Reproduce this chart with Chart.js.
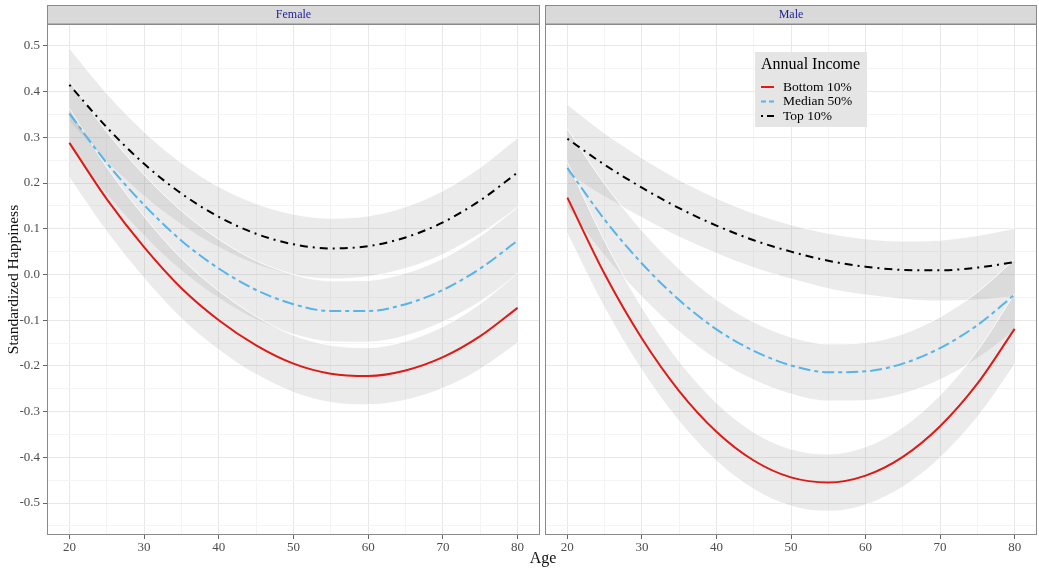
<!DOCTYPE html>
<html lang="en">
<head>
<meta charset="UTF-8">
<title>Standardized Happiness by Age and Annual Income</title>
<script src="https://cdn.jsdelivr.net/npm/chart.js"></script>
<style>
    * { margin: 0; padding: 0; box-sizing: border-box; }
    body { background: #fff; font-family: 'Liberation Serif', serif; }
    .wrap { position: relative; width: 1039px; height: 568px; overflow: hidden; }
    #femaleChart { position: absolute; left: 0; top: 0; }
    #maleChart { position: absolute; left: 543px; top: 0; }
    .x-title {
        position: absolute; left: 443px; width: 200px; top: 549px;
        text-align: center; font-size: 16px; line-height: 18px; color: #111;
    }
</style>
</head>
<body>
<div class="wrap">
    <canvas id="femaleChart" width="543" height="568"></canvas>
    <canvas id="maleChart" width="496" height="568"></canvas>
    <div class="x-title">Age</div>
</div>

<script>
// ages and axis ticks
const ages = [20, 25, 30, 35, 40, 45, 50, 55, 60, 65, 70, 75, 80];
const xTicks = [20, 25, 30, 35, 40, 45, 50, 55, 60, 65, 70, 75, 80];
const yTicks = [-0.55, -0.5, -0.45, -0.4, -0.35, -0.3, -0.25, -0.2, -0.15, -0.1, -0.05, 0,
                0.05, 0.1, 0.15, 0.2, 0.25, 0.3, 0.35, 0.4, 0.45, 0.5];
const seriesNames = ['Bottom 10%', 'Median 50%', 'Top 10%'];
const panelNames = ['Female', 'Male'];

// Female - fitted values and confidence bands
const femaleBottom   = [0.288, 0.165, 0.060, -0.030, -0.100, -0.155, -0.195, -0.217, -0.222, -0.210, -0.181, -0.135, -0.073];
const femaleBottomHi = [0.363, 0.235, 0.127, 0.035, -0.036, -0.092, -0.133, -0.155, -0.160, -0.146, -0.114, -0.064, 0.003];
const femaleBottomLo = [0.213, 0.095, -0.007, -0.095, -0.164, -0.218, -0.257, -0.279, -0.284, -0.274, -0.248, -0.206, -0.149];
const femaleMedian   = [0.352, 0.244, 0.152, 0.074, 0.013, -0.034, -0.065, -0.080, -0.080, -0.065, -0.034, 0.013, 0.074];
const femaleMedianHi = [0.424, 0.312, 0.218, 0.139, 0.077, 0.030, 0.000, -0.014, -0.013, 0.003, 0.035, 0.084, 0.147];
const femaleMedianLo = [0.280, 0.176, 0.086, 0.009, -0.051, -0.098, -0.130, -0.146, -0.147, -0.133, -0.103, -0.058, 0.001];
const femaleTop      = [0.415, 0.322, 0.242, 0.177, 0.126, 0.089, 0.066, 0.057, 0.062, 0.081, 0.114, 0.162, 0.223];
const femaleTopHi    = [0.495, 0.396, 0.312, 0.244, 0.192, 0.155, 0.132, 0.123, 0.128, 0.148, 0.183, 0.234, 0.299];
const femaleTopLo    = [0.335, 0.248, 0.172, 0.110, 0.060, 0.023, 0.000, -0.009, -0.004, 0.014, 0.045, 0.090, 0.147];

// Male - fitted values and confidence bands
const maleBottom   = [0.168, 0.001, -0.140, -0.255, -0.344, -0.407, -0.444, -0.455, -0.440, -0.399, -0.332, -0.239, -0.119];
const maleBottomHi = [0.245, 0.073, -0.072, -0.190, -0.281, -0.345, -0.382, -0.393, -0.377, -0.334, -0.264, -0.167, -0.042];
const maleBottomLo = [0.091, -0.071, -0.208, -0.320, -0.407, -0.469, -0.506, -0.517, -0.503, -0.464, -0.400, -0.311, -0.196];
const maleMedian   = [0.233, 0.120, 0.024, -0.056, -0.120, -0.167, -0.199, -0.214, -0.212, -0.195, -0.161, -0.111, -0.044];
const maleMedianHi = [0.318, 0.198, 0.096, 0.012, -0.055, -0.104, -0.137, -0.152, -0.149, -0.130, -0.093, -0.039, 0.033];
const maleMedianLo = [0.148, 0.042, -0.048, -0.124, -0.185, -0.230, -0.261, -0.276, -0.275, -0.260, -0.229, -0.183, -0.121];
const maleTop      = [0.297, 0.240, 0.190, 0.145, 0.107, 0.075, 0.050, 0.030, 0.017, 0.010, 0.009, 0.015, 0.027];
const maleTopHi    = [0.372, 0.309, 0.255, 0.207, 0.167, 0.134, 0.109, 0.090, 0.078, 0.073, 0.075, 0.085, 0.101];
const maleTopLo    = [0.222, 0.171, 0.125, 0.083, 0.047, 0.016, -0.009, -0.030, -0.044, -0.053, -0.057, -0.055, -0.047];

const lineColors = ['#dd1a16', '#56b4e9', '#000000'];
const lineDashes = [[], [12, 4, 4, 4], [2, 5, 8, 5]];
const bandFill = 'rgba(153, 153, 153, 0.2)';
const FONT = "'Liberation Serif', serif";

function pts(vals) {
    return ages.map((a, i) => ({ x: a, y: vals[i] }));
}

function buildDatasets(lines, his, los) {
    const ds = [];
    // bands first, drawn under the lines
    his.forEach((hi, i) => {
        ds.push({
            label: seriesNames[i] + ' upper', data: pts(hi), fill: '+1',
            backgroundColor: bandFill, borderColor: 'rgba(255,255,255,0.85)', borderWidth: 1,
            pointRadius: 0, cubicInterpolationMode: 'monotone', order: 1
        });
        ds.push({
            label: seriesNames[i] + ' lower', data: pts(los[i]), fill: false,
            borderColor: 'rgba(255,255,255,0.85)', borderWidth: 1,
            pointRadius: 0, cubicInterpolationMode: 'monotone', order: 1
        });
    });
    lines.forEach((vals, i) => {
        ds.push({
            label: seriesNames[i], data: pts(vals), fill: false,
            borderColor: lineColors[i], borderDash: lineDashes[i], borderWidth: 2,
            borderCapStyle: 'butt', pointRadius: 0, cubicInterpolationMode: 'monotone', order: 0
        });
    });
    return ds;
}

function isMajor(v, step) {
    return Math.abs(Math.round(v / step) * step - v) < 1e-6;
}

// strip header + panel border
const panelFrame = {
    id: 'panelFrame',
    afterDraw(chart, args, opts) {
        const { ctx, chartArea: a } = chart;
        const w = a.right - a.left;
        ctx.save();
        ctx.fillStyle = '#d9d9d9';
        ctx.fillRect(a.left, 5, w, a.top - 5);
        ctx.strokeStyle = '#8a8a8a';
        ctx.lineWidth = 1;
        ctx.strokeRect(a.left + 0.5, 5.5, w - 1, a.top - 5.5);
        ctx.strokeRect(a.left + 0.5, a.top + 0.5, w - 1, a.bottom - a.top - 1);
        ctx.fillStyle = '#1f1f96';
        ctx.font = '12px ' + FONT;
        ctx.textAlign = 'center';
        ctx.textBaseline = 'middle';
        ctx.fillText(opts.label, a.left + w / 2, 15);
        ctx.restore();
    }
};

// legend box inside the male panel
const incomeLegend = {
    id: 'incomeLegend',
    afterDraw(chart, args, opts) {
        if (!opts.show) return;
        const ctx = chart.ctx;
        const x0 = opts.x, y0 = opts.y;
        ctx.save();
        ctx.fillStyle = '#e5e5e5';
        ctx.fillRect(x0, y0, 112, 75);
        ctx.fillStyle = '#000';
        ctx.font = '16px ' + FONT;
        ctx.textBaseline = 'middle';
        ctx.fillText('Annual Income', x0 + 6, y0 + 13);
        ctx.font = '13.5px ' + FONT;
        seriesNames.forEach((name, i) => {
            const yy = y0 + 35 + i * 14.5;
            ctx.strokeStyle = lineColors[i];
            ctx.lineWidth = 2;
            ctx.setLineDash(i === 1 ? [5, 3] : (i === 2 ? [2, 4, 7, 0] : []));
            ctx.beginPath();
            ctx.moveTo(x0 + 6, yy);
            ctx.lineTo(x0 + 19, yy);
            ctx.stroke();
            ctx.setLineDash([]);
            ctx.fillStyle = '#000';
            ctx.fillText(name, x0 + 28, yy);
        });
        ctx.restore();
    }
};

function makeChart(id, panel, lines, his, los, isLeft) {
    const ctx = document.getElementById(id).getContext('2d');
    return new Chart(ctx, {
        type: 'line',
        data: { datasets: buildDatasets(lines, his, los) },
        plugins: [panelFrame, incomeLegend],
        options: {
            responsive: false,
            animation: false,
            events: [],
            layout: { padding: { top: 24, right: isLeft ? 3 : 2, left: isLeft ? 0 : 2, bottom: 0 } },
            plugins: {
                legend: { display: false },
                tooltip: { enabled: false },
                panelFrame: { label: panel },
                incomeLegend: { show: !isLeft, x: 755 - 543, y: 52 }
            },
            scales: {
                x: {
                    type: 'linear', min: 17, max: 83,
                    afterBuildTicks: s => { s.ticks = xTicks.map(v => ({ value: v })); },
                    afterFit: s => { s.height = 33; },
                    border: { display: false },
                    grid: {
                        color: c => isMajor(c.tick.value, 10) ? '#e8e8e8' : '#f4f4f4',
                        lineWidth: 1,
                        tickLength: 4,
                        tickColor: c => isMajor(c.tick.value, 10) ? '#666' : 'rgba(0,0,0,0)'
                    },
                    ticks: {
                        autoSkip: false, maxRotation: 0, padding: 1,
                        color: '#4d4d4d', font: { family: FONT, size: 13 },
                        callback: v => isMajor(v, 10) ? String(v) : ''
                    }
                },
                y: {
                    type: 'linear', min: -0.57, max: 0.548,
                    afterBuildTicks: s => { s.ticks = yTicks.map(v => ({ value: v })); },
                    afterFit: s => { s.width = isLeft ? 47 : 0; },
                    border: { display: false },
                    grid: {
                        color: c => isMajor(c.tick.value, 0.1) ? '#e8e8e8' : '#f4f4f4',
                        lineWidth: 1,
                        drawTicks: isLeft,
                        tickLength: 4,
                        tickColor: c => isMajor(c.tick.value, 0.1) ? '#666' : 'rgba(0,0,0,0)'
                    },
                    ticks: {
                        display: isLeft, autoSkip: false, padding: 3,
                        color: '#4d4d4d', font: { family: FONT, size: 13 },
                        callback: v => {
                            if (!isMajor(v, 0.1)) return '';
                            const r = Math.round(v * 10) / 10;
                            return r === 0 ? '0.0' : r.toFixed(1);
                        }
                    },
                    title: {
                        display: isLeft, text: 'Standardized Happiness',
                        color: '#111', font: { family: FONT, size: 15.5 },
                        padding: { top: 5, bottom: 0 }
                    }
                }
            }
        }
    });
}

makeChart('femaleChart', panelNames[0],
    [femaleBottom, femaleMedian, femaleTop],
    [femaleBottomHi, femaleMedianHi, femaleTopHi],
    [femaleBottomLo, femaleMedianLo, femaleTopLo], true);

makeChart('maleChart', panelNames[1],
    [maleBottom, maleMedian, maleTop],
    [maleBottomHi, maleMedianHi, maleTopHi],
    [maleBottomLo, maleMedianLo, maleTopLo], false);
</script>
</body>
</html>
